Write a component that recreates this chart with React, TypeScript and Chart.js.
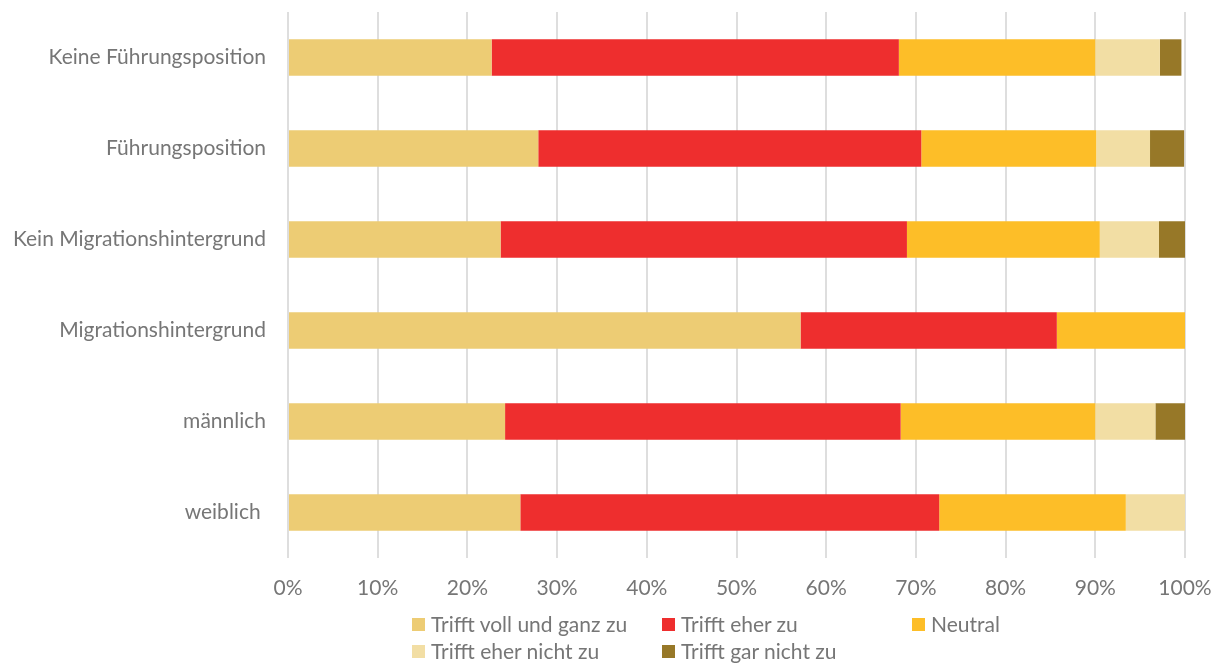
import React, { useEffect, useRef } from "react";
import { Chart, registerables } from "chart.js";

Chart.register(...registerables);

const categories = [
  "Keine Führungsposition",
  "Führungsposition",
  "Kein Migrationshintergrund",
  "Migrationshintergrund",
  "männlich",
  "weiblich ",
];
const seriesNames = [
  "Trifft voll und ganz zu",
  "Trifft eher zu",
  "Neutral",
  "Trifft eher nicht zu",
  "Trifft gar nicht zu",
];
const trifftVoll = [22.7, 27.9, 23.7, 57.14, 24.2, 25.9];
const trifftEher = [45.4, 42.7, 45.3, 28.57, 44.1, 46.7];
const neutral = [21.9, 19.5, 21.5, 14.29, 21.7, 20.8];
const eherNicht = [7.2, 6.0, 6.6, 0, 6.7, 6.6];
const garNicht = [2.4, 3.8, 2.9, 0, 3.3, 0];
const xTicks = [0, 10, 20, 30, 40, 50, 60, 70, 80, 90, 100];

const colors = ["#EDCC74", "#EE2E2E", "#FDBE28", "#F2DEA4", "#977828"];
const FONT = "Lato, sans-serif";
const TEXT = "#767676";
const FS = 21;

export default function App() {
  const ref = useRef<HTMLCanvasElement | null>(null);
  useEffect(() => {
    document.body.style.margin = "0";
    const values = [trifftVoll, trifftEher, neutral, eherNicht, garNicht];
    const chart = new Chart(ref.current!, {
      type: "bar",
      data: {
        labels: categories,
        datasets: seriesNames.map((n, i) => ({
          label: n,
          data: values[i],
          backgroundColor: colors[i],
          borderWidth: 0,
          categoryPercentage: 1,
          barPercentage: 0.4,
        })),
      },
      options: {
        indexAxis: "y",
        animation: false,
        responsive: false,
        devicePixelRatio: 1,
        layout: { padding: { top: 12, right: 33, left: 0, bottom: 0 } },
        plugins: { legend: { display: false }, tooltip: { enabled: false } },
        scales: {
          x: {
            stacked: true,
            min: 0,
            max: 100,
            afterFit: (s: any) => {
              s.height = 106;
              s.paddingLeft = 0;
              s.paddingRight = 0;
            },
            afterBuildTicks: (s: any) => { s.ticks = xTicks.map((v) => ({ value: v })); },
            border: { display: false },
            grid: { color: "#dedede", lineWidth: 2, drawTicks: false },
            ticks: {
              padding: 18,
              color: TEXT,
              font: { family: FONT, size: FS },
              callback: (v: any) => v + "%",
            },
          },
          y: {
            stacked: true,
            afterFit: (s: any) => {
              s.width = 288;
              s.paddingTop = 0;
              s.paddingBottom = 0;
            },
            border: { display: false },
            grid: { display: false, drawTicks: false },
            ticks: {
              padding: 22,
              color: TEXT,
              font: { family: FONT, size: FS },
            },
          },
        },
      },
    });
    return () => chart.destroy();
  }, []);

  const legendPos = [
    [412, 612], [662, 612], [912, 612],
    [412, 639], [662, 639],
  ];
  return (
    <div style={{ position: "relative", width: 1218, height: 664 }}>
      <canvas ref={ref} width={1218} height={664} style={{ display: "block" }} />
      {seriesNames.map((n, i) => (
        <div
          key={n}
          style={{
            position: "absolute",
            left: legendPos[i][0],
            top: legendPos[i][1],
            display: "flex",
            alignItems: "center",
            fontFamily: FONT,
            fontSize: FS,
            color: TEXT,
            whiteSpace: "nowrap",
            lineHeight: "24px",
          }}
        >
          <span style={{ display: "inline-block", width: 13, height: 13, background: colors[i], marginRight: 6 }} />
          {n}
        </div>
      ))}
    </div>
  );
}
